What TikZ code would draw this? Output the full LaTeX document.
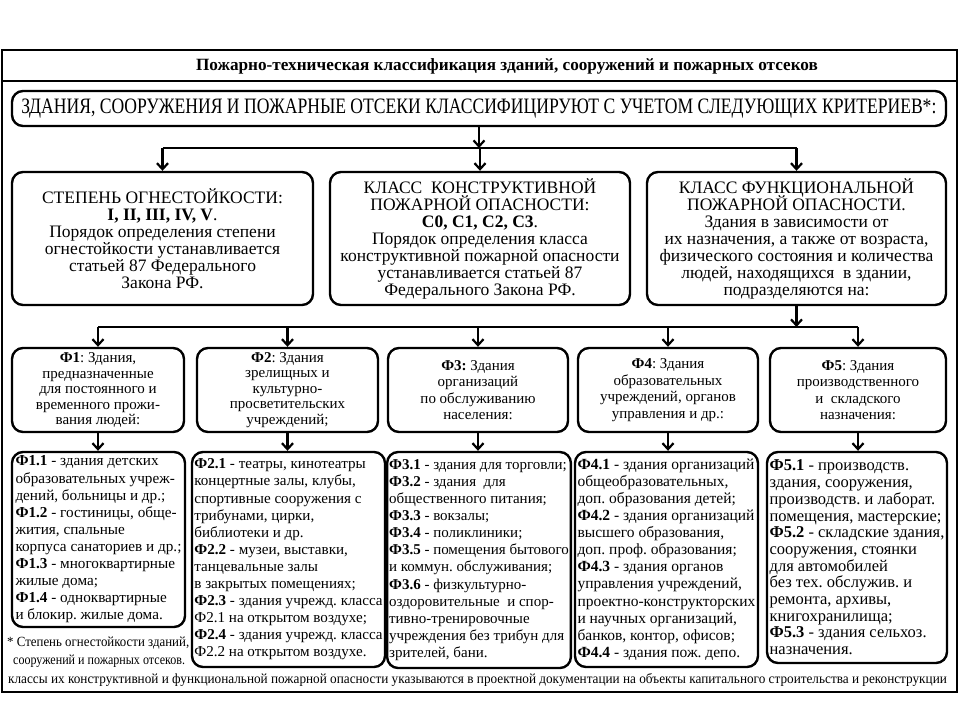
\documentclass[tikz,border=0pt]{standalone}
\usepackage{fontspec}
\usepackage{graphicx}
\setmainfont{Liberation Serif}
\usetikzlibrary{arrows.meta,calc}
\tikzset{>={Straight Barb[length=6pt,width=11pt]}}
\newcommand{\hsq}[2]{\scalebox{#1}[1]{#2}}
\tikzstyle{frame}=[rectangle,draw,line width=1.6pt,inner sep=0pt]
\tikzstyle{crit}=[rectangle,draw,rounded corners=11pt,line width=2.4pt,inner sep=2pt,align=center]
\tikzstyle{sub}=[crit,align=left,inner sep=2pt]
\tikzstyle{conn}=[line width=2.2pt]
\tikzstyle{note}=[anchor=west,inner sep=0pt]

\begin{document}
\frenchspacing
\lineskiplimit=-100pt
\lineskip=0pt
\begin{tikzpicture}[x=1pt,y=-1pt]
	\useasboundingbox (0,0) rectangle (960,720);
	\node[frame, minimum width=955pt, minimum height=642pt] (page) at (479.5,371) {};
	\node[frame, minimum width=955pt, minimum height=31pt] (band) at (479.5,65.5) {};
	\node[inner sep=0pt, font=\bfseries\fontsize{17.2}{19}\selectfont] (heading) at (507,66)
		{Пожарно-техническая классификация зданий, сооружений и пожарных отсеков};
	
	\node[crit, minimum width=934pt, minimum height=35pt] (top) at (479,108.5)
		{\fontsize{22}{24}\selectfont\hsq{0.8}{ЗДАНИЯ, СООРУЖЕНИЯ И ПОЖАРНЫЕ ОТСЕКИ КЛАССИФИЦИРУЮТ С УЧЕТОМ СЛЕДУЮЩИХ КРИТЕРИЕВ*:}};
	
	\node[crit, minimum width=301pt, minimum height=133pt, font=\fontsize{17.5}{17}\selectfont] (b1) at (162.5,238.5)
		{СТЕПЕНЬ ОГНЕСТОЙКОСТИ:\\ \textbf{I, II, III, IV, V}.\\ Порядок определения степени\\ огнестойкости устанавливается\\ статьей 87 Федерального\\ Закона РФ.};
	\node[crit, minimum width=300pt, minimum height=133pt, font=\fontsize{17.5}{17}\selectfont] (b2) at (480,238.5)
		{КЛАСС~~КОНСТРУКТИВНОЙ\\ ПОЖАРНОЙ ОПАСНОСТИ:\\ \textbf{С0, С1, С2, С3}.\\ Порядок определения класса\\ конструктивной пожарной опасности\\ устанавливается статьей 87\\ Федерального Закона РФ.};
	\node[crit, minimum width=299pt, minimum height=133pt, font=\fontsize{17.5}{17}\selectfont] (b3) at (796.5,238.5)
		{КЛАСС ФУНКЦИОНАЛЬНОЙ\\ ПОЖАРНОЙ ОПАСНОСТИ.\\ Здания в зависимости от\\ их назначения, а также от возраста,\\ физического состояния и количества\\ людей, находящихся~~в здании,\\ подразделяются на:};
	
	\coordinate (bus1) at (479,148);
	\draw[conn,->] (top) -- (bus1);
	\draw[conn] (b1.north |- bus1) -- (b3.north |- bus1);
	\foreach \n in {b1,b2,b3}
		\draw[conn,->] (\n.north |- bus1) -- (\n.north);
	
	\node[crit, minimum width=172pt, minimum height=84pt, font=\fontsize{15}{15.5}\selectfont] (f1) at (98,390)
		{\textbf{Ф1}: Здания,\\ предназначенные\\ для постоянного и\\ временного прожи-\\ вания людей:};
	\node[crit, minimum width=181pt, minimum height=84pt, font=\fontsize{15}{15.5}\selectfont] (f2) at (287.5,390)
		{\textbf{Ф2}: Здания\\ зрелищных и\\ культурно-\\ просветительских\\ учреждений;};
	\node[crit, minimum width=180pt, minimum height=84pt, font=\fontsize{15}{16.5}\selectfont] (f3) at (478,390)
		{\textbf{Ф3:} Здания\\ организаций\\ по обслуживанию\\ населения:};
	\node[crit, minimum width=180pt, minimum height=84pt, font=\fontsize{15}{16.5}\selectfont] (f4) at (668,390)
		{\textbf{Ф4}: Здания\\ образовательных\\ учреждений, органов\\ управления и др.:};
	\node[crit, minimum width=176pt, minimum height=84pt, font=\fontsize{15}{16.5}\selectfont] (f5) at (858,390)
		{\textbf{Ф5}: Здания\\ производственного\\ и~~складского\\ назначения:};
	
	\coordinate (bus2) at (796.5,327);
	\draw[conn,->] (b3) -- (bus2);
	\draw[conn] (f1.north |- bus2) -- (f5.north |- bus2);
	\foreach \n in {f1,f2,f3,f4,f5}
		\draw[conn,->] (\n.north |- bus2) -- (\n.north);
	
	\node[sub, minimum width=173pt, minimum height=175pt, font=\fontsize{15.2}{17.1}\selectfont] (g1) at (98.5,539.5)
		{\textbf{Ф1.1} - здания детских\\ образовательных учреж-\\ дений, больницы и др.;\\ \textbf{Ф1.2} - гостиницы, обще-\\ жития, спальные\\ корпуса санаториев и др.;\\ \textbf{Ф1.3} - многоквартирные\\ жилые дома;\\ \textbf{Ф1.4} - одноквартирные\\ и блокир. жилые дома.};
	\node[sub, minimum width=193pt, minimum height=215pt, font=\fontsize{15.1}{17.1}\selectfont] (g2) at (288.5,559.5)
		{\textbf{Ф2.1} - театры, кинотеатры\\ концертные залы, клубы,\\ спортивные сооружения с\\ трибунами, цирки,\\ библиотеки и др.\\ \textbf{Ф2.2} - музеи, выставки,\\ танцевальные залы\\ в закрытых помещениях;\\ \textbf{Ф2.3} - здания учрежд. класса\\ Ф2.1 на открытом воздухе;\\ \textbf{Ф2.4} - здания учрежд. класса\\ Ф2.2 на открытом воздухе.};
	\node[sub, minimum width=182pt, minimum height=216pt, font=\fontsize{15}{17.1}\selectfont] (g3) at (479,560)
		{\textbf{Ф3.1} - здания для торговли;\\ \textbf{Ф3.2} - здания~~для\\ общественного питания;\\ \textbf{Ф3.3} - вокзалы;\\ \textbf{Ф3.4} - поликлиники;\\ \textbf{Ф3.5} - помещения бытового\\ и коммун. обслуживания;\\ \textbf{Ф3.6} - физкультурно-\\ оздоровительные~~и спор-\\ тивно-тренировочные\\ учреждения без трибун для\\ зрителей, бани.};
	\node[sub, minimum width=183pt, minimum height=215pt, font=\fontsize{15.5}{17.1}\selectfont] (g4) at (666.5,559.5)
		{\textbf{Ф4.1} - здания организаций\\ общеобразовательных,\\ доп. образования детей;\\ \textbf{Ф4.2} - здания организаций\\ высшего образования,\\ доп. проф. образования;\\ \textbf{Ф4.3} - здания органов\\ управления учреждений,\\ проектно-конструкторских\\ и научных организаций,\\ банков, контор, офисов;\\ \textbf{Ф4.4} - здания пож. депо.};
	\node[sub, minimum width=180pt, minimum height=211pt, font=\fontsize{16.5}{16.7}\selectfont] (g5) at (857,557.5)
		{\textbf{Ф5.1} - производств.\\ здания, сооружения,\\ производств. и лаборат.\\ помещения, мастерские;\\ \textbf{Ф5.2} - складские здания,\\ сооружения, стоянки\\ для автомобилей\\ без тех. обслужив. и\\ ремонта, архивы,\\ книгохранилища;\\ \textbf{Ф5.3} - здания сельхоз.\\ назначения.};
	
	\foreach \n/\m in {f1/g1,f2/g2,f3/g3,f4/g4,f5/g5}
		\draw[conn,->] (\n.south) -- (\n.south |- \m.north);
	
	\node[note, font=\fontsize{14}{16}\selectfont] (n1) at (7,643) {\hsq{0.92}{* Степень огнестойкости зданий,}};
	\node[note, font=\fontsize{14}{16}\selectfont] (n2) at (13,661) {\hsq{0.86}{сооружений и пожарных отсеков.}};
	\node[note, font=\fontsize{14}{16}\selectfont] (n3) at (8,680) {\hsq{0.945}{классы их конструктивной и функциональной пожарной опасности указываются в проектной документации на объекты капитального строительства и реконструкции}};
\end{tikzpicture}
\end{document}
